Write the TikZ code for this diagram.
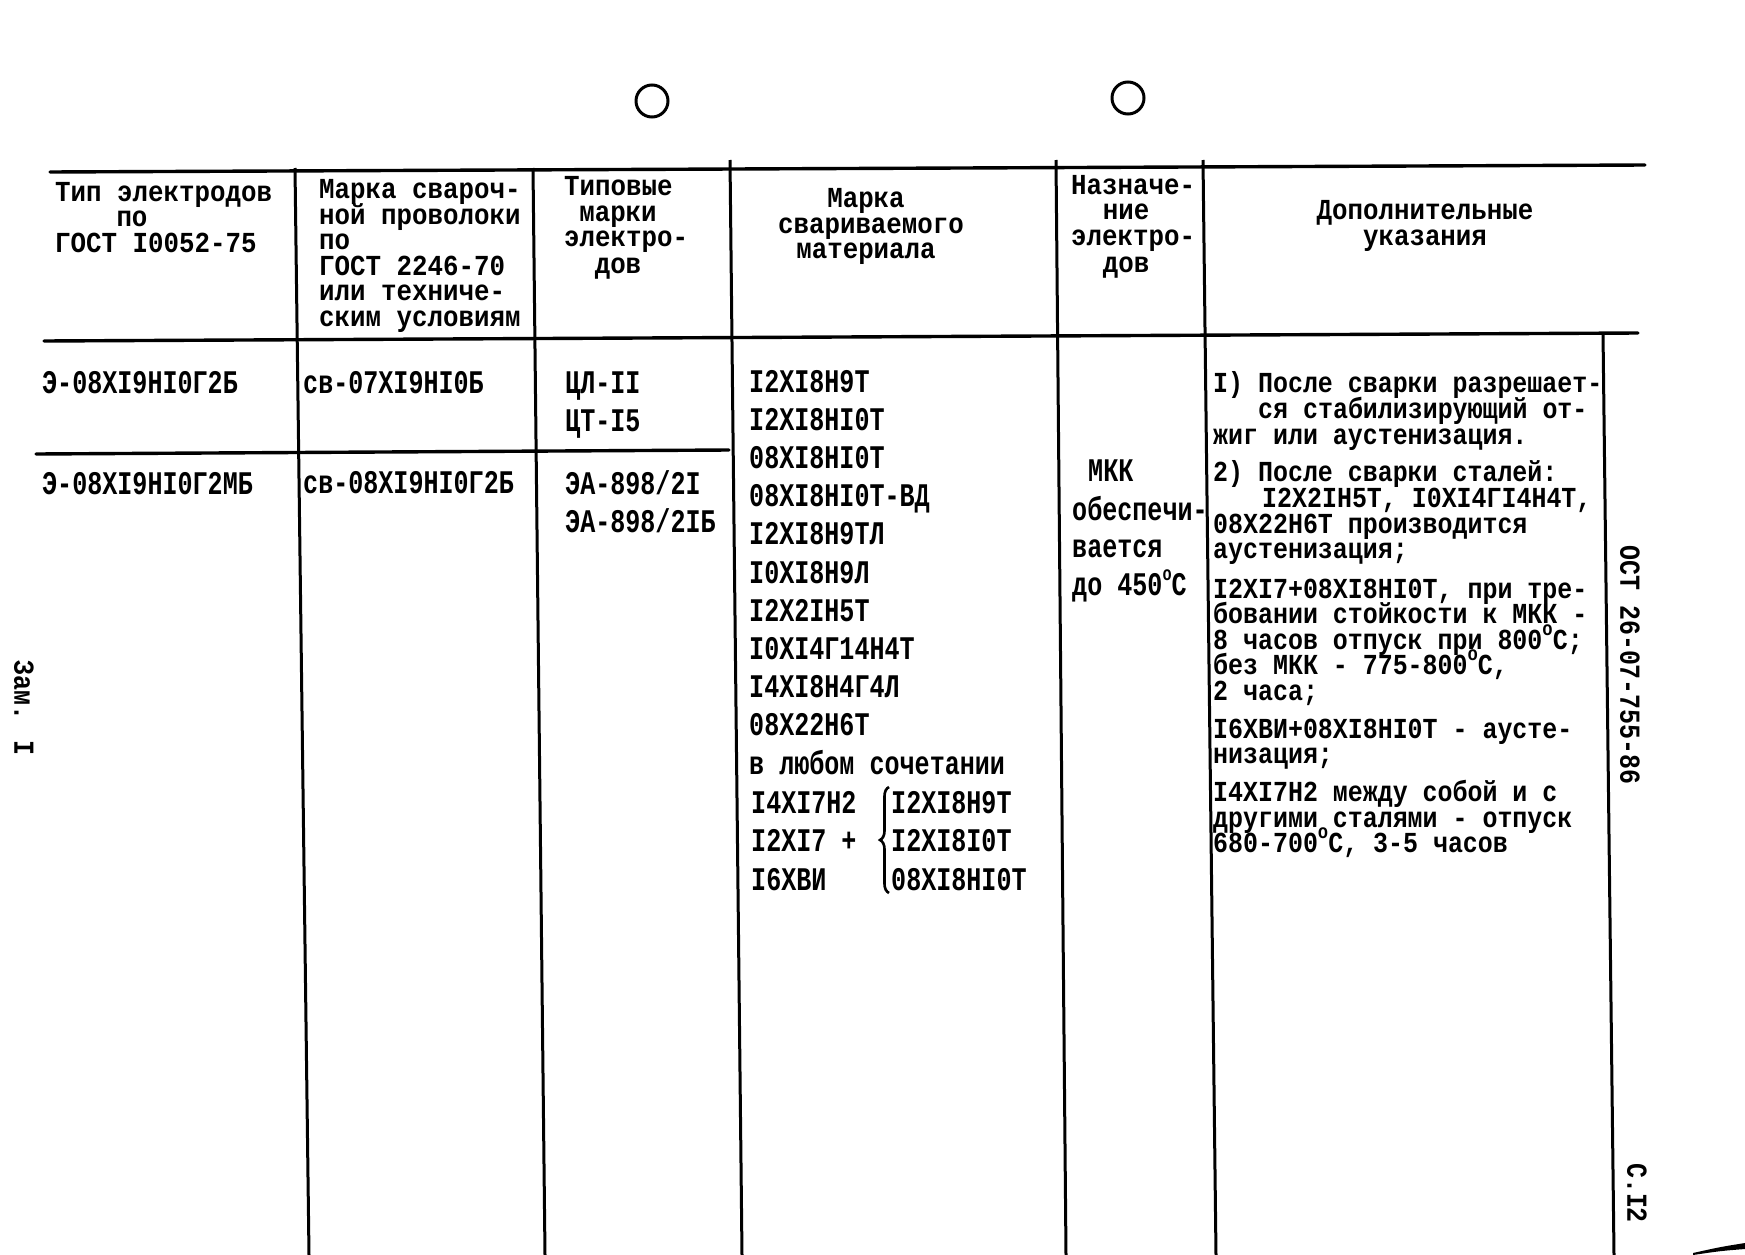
\documentclass[tikz,border=0pt]{standalone}
\usepackage{fontspec}
\usetikzlibrary{decorations.pathreplacing}
\newfontfamily\twbig[FakeStretch=0.76]{Liberation Mono}
\newfontfamily\twsm[FakeStretch=0.89]{Liberation Mono}
\newfontfamily\twnote[FakeStretch=0.86]{Liberation Mono}
\newcommand\degr{\raisebox{0.45em}{\fontsize{20}{20}\selectfont o}}
\tikzset{
  rule/.style={line width=3.4pt, line cap=round},
  vrule/.style={line width=3pt},
  big/.style={font=\twbig\bfseries\fontsize{33}{38}\selectfont, inner sep=0pt, anchor=base west},
  sm/.style={font=\twsm\bfseries\fontsize{29}{25}\selectfont, inner sep=0pt, anchor=base west},
  smc/.style={sm, anchor=base},
  note/.style={font=\twnote\bfseries\fontsize{29}{25}\selectfont, inner sep=0pt, anchor=base west},
}
\begin{document}
\begin{tikzpicture}[x=1pt,y=-1pt]
\useasboundingbox (0,0) rectangle (1745,1255);
\fill[white] (0,0) rectangle (1745,1255);
% punch holes
\draw[line width=3pt] (652,101) circle[radius=16];
\draw[line width=3pt] (1128,98) circle[radius=16];
% table rules
\draw[rule] (50,172) -- (1645,165);
\draw[rule] (44,341) -- (1638,333);
\draw[rule] (36,454) -- (729,450);
\draw[vrule] (295,168) -- (309,1255);
\draw[vrule] (533,168) -- (545,1255);
\draw[vrule] (730,160) -- (742,1255);
\draw[vrule] (1056,160) -- (1066,1255);
\draw[vrule] (1203,160) -- (1216,1255);
\draw[vrule] (1603,333) -- (1614,1255);
% header col 1
\node[sm] (h1a) at (55,201) {Тип электродов};
\node[smc] (h1b) at (132,226.5) {по};
\node[sm] (h1c) at (55,252) {ГОСТ I0052-75};
% header col 2
\foreach [count=\i] \t in {Марка свароч-, ной проволоки, по, ГОСТ 2246-70, или техниче-, ским условиям}
  \node[sm] (h2-\i) at (319,{198.5+(\i-1)*25.6}) {\t};
% header col 3
\node[sm] (h3a) at (564,195.5) {Типовые};
\node[smc] (h3b) at (618,221) {марки};
\node[sm] (h3c) at (564,246.5) {электро-};
\node[smc] (h3d) at (618,273.5) {дов};
% header col 4
\node[smc] (h4a) at (866,207.5) {Марка};
\node[smc] (h4b) at (871,233) {свариваемого};
\node[smc] (h4c) at (866,258.5) {материала};
% header col 5
\node[sm] (h5a) at (1071,194) {Назначе-};
\node[smc] (h5b) at (1126,219.5) {ние};
\node[sm] (h5c) at (1071,245.5) {электро-};
\node[smc] (h5d) at (1126,272) {дов};
% header col 6
\node[smc] (h6a) at (1425,219.5) {Дополнительные};
\node[smc] (h6b) at (1425,245.5) {указания};
% row 1
\node[big] (r1c1) at (42,393) {Э-08XI9HI0Г2Б};
\node[big] (r1c2) at (303,393) {св-07XI9HI0Б};
\node[big] (r1c3a) at (565,393) {ЦЛ-II};
\node[big] (r1c3b) at (565,431) {ЦТ-I5};
% row 2
\node[big] (r2c1) at (42,494) {Э-08XI9HI0Г2МБ};
\node[big] (r2c2) at (303,493) {св-08XI9HI0Г2Б};
\node[big] (r2c3a) at (565,494) {ЭА-898/2I};
\node[big] (r2c3b) at (565,532) {ЭА-898/2IБ};
% col 4 list
\foreach [count=\i] \t in {I2XI8H9T, I2XI8HI0T, 08XI8HI0T, 08XI8HI0T-ВД, I2XI8H9ТЛ, I0XI8H9Л, I2X2IH5T, I0XI4Г14H4T, I4XI8H4Г4Л, 08X22H6T, в любом сочетании}
  \node[big] (m-\i) at (749,{392+(\i-1)*38.2}) {\t};
\node[big] (ka) at (751,813) {I4XI7H2};
\node[big] (kb) at (751,851) {I2XI7 +};
\node[big] (kc) at (751,890) {I6XBИ};
\node[big] (la) at (891,813) {I2XI8H9T};
\node[big] (lb) at (891,851) {I2XI8I0T};
\node[big] (lc) at (891,890) {08XI8HI0T};
\draw[line width=2.6pt, decorate, decoration={brace, amplitude=9pt}] (889,893) -- (889,787);
% col 5
\node[big] (n1) at (1088,481) {МКК};
\node[big] (n2) at (1072,520) {обеспечи-};
\node[big] (n3) at (1072,557) {вается};
\node[big] (n4) at (1072,595) {до 450\degr C};
% col 6 notes
\node[note] (d1) at (1213,392) {I) После сварки разрешает-};
\node[note] (d2) at (1258,418) {ся стабилизирующий от-};
\node[note] (d3) at (1213,444) {жиг или аустенизация.};
\node[note] (d4) at (1213,481) {2) После сварки сталей:};
\node[note] (d5) at (1262,507) {I2X2IH5T, I0XI4ГI4H4T,};
\node[note] (d6) at (1213,533) {08X22H6T производится};
\node[note] (d7) at (1213,558) {аустенизация;};
\node[note] (d8) at (1213,598) {I2XI7+08XI8HI0T, при тре-};
\node[note] (d9) at (1213,623) {бовании стойкости к МКК -};
\node[note] (d10) at (1213,649) {8 часов отпуск при 800\degr C;};
\node[note] (d11) at (1213,674) {без МКК - 775-800\degr C,};
\node[note] (d12) at (1213,700) {2 часа;};
\node[note] (d13) at (1213,738) {I6XBИ+08XI8HI0T - аусте-};
\node[note] (d14) at (1213,763) {низация;};
\node[note] (d15) at (1213,801) {I4XI7H2 между собой и с};
\node[note] (d16) at (1213,827) {другими сталями - отпуск};
\node[note] (d17) at (1213,852) {680-700\degr C, 3-5 часов};
% margin texts
\node[note, rotate=-90, anchor=center] (ost) at (1630,665) {ОСТ 26-07-755-86};
\node[note, rotate=-90, anchor=center] (pg) at (1637,1193) {С.I2};
\node[note, rotate=-90, anchor=center] (zam) at (24,708) {Зам. I};
% scan edge mark
\fill (1693,1253) .. controls (1720,1247) .. (1745,1243) -- (1745,1249) .. controls (1720,1251) .. (1693,1255) -- cycle;
\end{tikzpicture}
\end{document}
